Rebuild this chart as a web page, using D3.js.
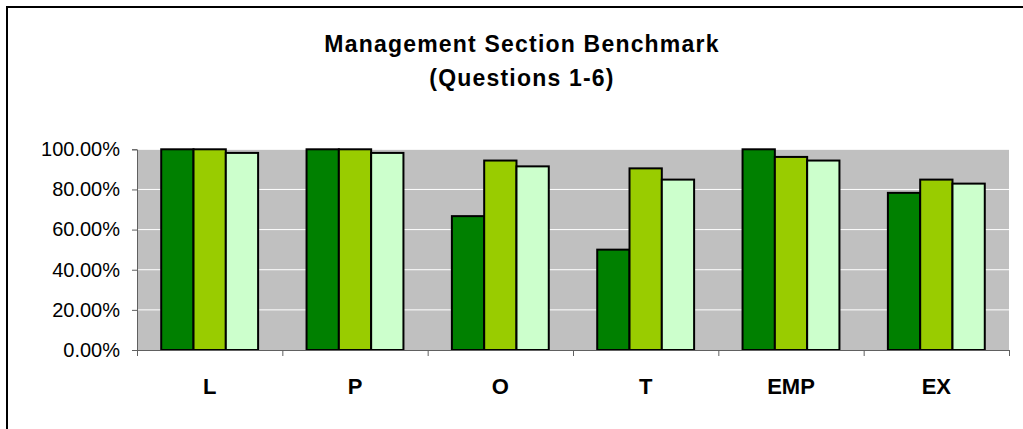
<!DOCTYPE html>
<html>
<head>
<meta charset="utf-8">
<script src="https://cdn.jsdelivr.net/npm/d3@7"></script>
<style>
  body { margin: 0; background: #fff; }
  text { font-family: "Liberation Sans", Arial, sans-serif; }
</style>
</head>
<body>
<script>
var categories = ["L", "P", "O", "T", "EMP", "EX"];
var seriesNames = ["s1", "s2", "s3"];
var s1Values = [1.00, 1.00, 0.667, 0.50, 1.00, 0.783];
var s2Values = [1.00, 1.00, 0.944, 0.905, 0.962, 0.849];
var s3Values = [0.982, 0.982, 0.915, 0.849, 0.944, 0.829];
var yTicks = [0, 0.2, 0.4, 0.6, 0.8, 1.0];
var colors = ["#008000", "#99cc00", "#ccffcc"];

var width = 1023, height = 429;
var plot = { left: 137, right: 1009, top: 149.3, bottom: 350 };

var svg = d3.select("body").append("svg")
  .attr("width", width)
  .attr("height", height);

// outer frame
svg.append("rect")
  .attr("x", 7).attr("y", 7)
  .attr("width", 1040).attr("height", 440)
  .attr("fill", "none")
  .attr("stroke", "#000")
  .attr("stroke-width", 2);

// title
var title = svg.append("text")
  .attr("text-anchor", "middle")
  .attr("font-size", 23)
  .attr("font-weight", "bold")
  .attr("letter-spacing", "1.2px");
title.append("tspan").attr("x", 522).attr("y", 52).text("Management Section Benchmark");
title.append("tspan").attr("x", 522).attr("y", 86).text("(Questions 1-6)");

var x = d3.scaleBand().domain(categories).range([plot.left, plot.right]);
var y = d3.scaleLinear().domain([0, 1]).range([plot.bottom, plot.top]);

var barW = x.bandwidth() / 4.5;
var x1 = d3.scaleBand().domain(seriesNames)
  .range([barW * 0.75, barW * 3.75]);

// plot background
svg.append("rect")
  .attr("x", plot.left).attr("y", plot.top)
  .attr("width", plot.right - plot.left)
  .attr("height", plot.bottom - plot.top)
  .attr("fill", "#c0c0c0");

// gridlines
svg.append("g").selectAll("line")
  .data(yTicks.slice(1))
  .enter().append("line")
  .attr("x1", plot.left).attr("x2", plot.right)
  .attr("y1", function(d) { return y(d) })
  .attr("y2", function(d) { return y(d) })
  .attr("stroke", "#fff")
  .attr("stroke-width", 1);

var data = categories.map(function(c, i) {
  return { cat: c, vals: [s1Values[i], s2Values[i], s3Values[i]] };
});

var groups = svg.append("g").selectAll("g")
  .data(data)
  .enter().append("g")
  .attr("transform", function(d) { return "translate(" + x(d.cat) + ",0)" });

groups.selectAll("rect")
  .data(function(d) { return d.vals.map(function(v, j) { return { s: seriesNames[j], v: v, j: j } }) })
  .enter().append("rect")
  .attr("x", function(d) { return x1(d.s) })
  .attr("y", function(d) { return y(d.v) })
  .attr("width", x1.bandwidth())
  .attr("height", function(d) { return plot.bottom - y(d.v) })
  .attr("fill", function(d) { return colors[d.j] })
  .attr("stroke", "#000")
  .attr("stroke-width", 2);

// y axis
var yAxis = svg.append("g")
  .attr("transform", "translate(" + plot.left + ",0)")
  .call(d3.axisLeft(y).tickValues(yTicks).tickSize(5).tickPadding(12)
    .tickFormat(d3.format(".2%")));
yAxis.select(".domain").attr("stroke", "#606060");
yAxis.selectAll(".tick line").attr("stroke", "#606060");
yAxis.selectAll("text").attr("font-size", 20).attr("fill", "#000")
  .attr("font-family", "Liberation Sans, Arial, sans-serif");

// x axis: boundary ticks
var xi = d3.scaleLinear().domain([0, categories.length]).range([plot.left, plot.right]);
var xTicks = svg.append("g")
  .attr("transform", "translate(0," + plot.bottom + ")")
  .call(d3.axisBottom(xi).ticks(categories.length).tickSize(6).tickFormat(""));
xTicks.select(".domain").attr("stroke", "#606060");
xTicks.selectAll(".tick line").attr("stroke", "#606060");

// x axis: category labels
var xLab = svg.append("g")
  .attr("transform", "translate(0," + plot.bottom + ")")
  .call(d3.axisBottom(x).tickSize(0).tickPadding(28));
xLab.select(".domain").remove();
xLab.selectAll("text").attr("font-size", 22).attr("font-weight", "bold").attr("fill", "#000")
  .attr("font-family", "Liberation Sans, Arial, sans-serif");
</script>
</body>
</html>
